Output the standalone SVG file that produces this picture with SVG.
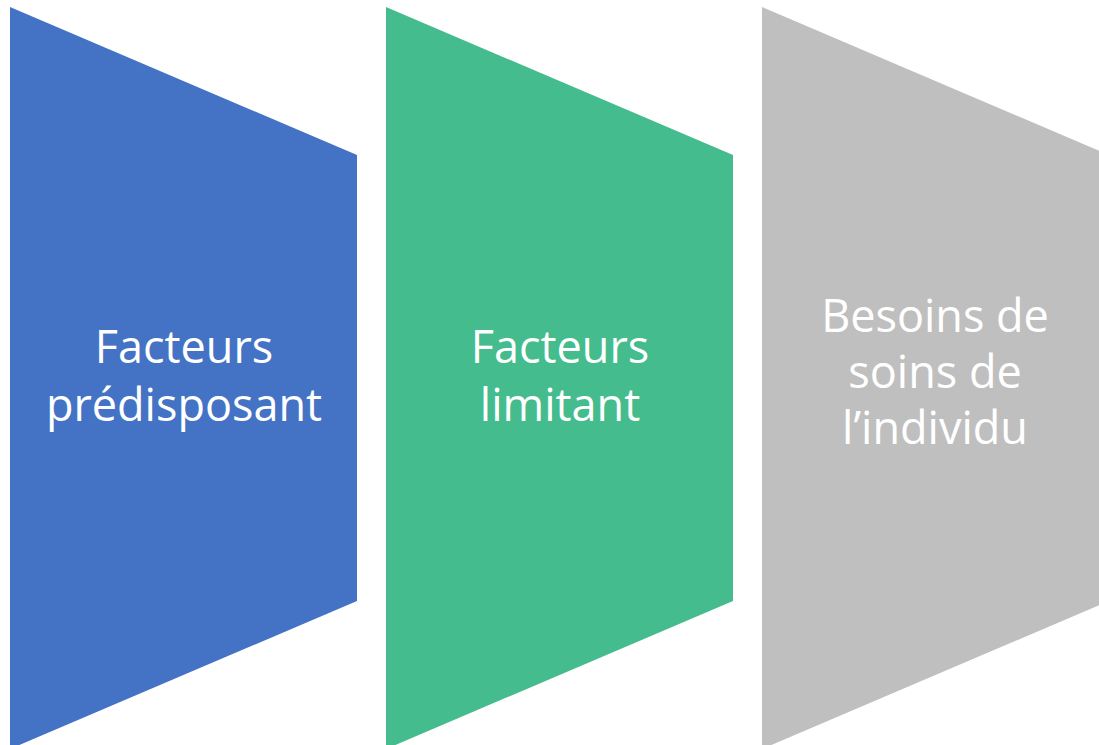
<svg xmlns="http://www.w3.org/2000/svg" width="1099" height="745" viewBox="0 0 1099 745">
<style>
.lbl{font-family:"Open Sans","Liberation Sans",sans-serif;font-size:45px;fill:#FFFFFF;text-anchor:middle}
</style>
<rect width="1099" height="745" fill="#FFFFFF"/>
<g id="node-1">
<polygon points="10,7 357,155 357,601 10,749" fill="#4472C4"/>
<text class="lbl" x="184" y="363">Facteurs</text>
<text class="lbl" x="184" y="421">prédisposant</text>
</g>
<g id="node-2">
<polygon points="386,7 733,155 733,601 386,749" fill="#44BC8D"/>
<text class="lbl" x="560" y="363">Facteurs</text>
<text class="lbl" x="560" y="421">limitant</text>
</g>
<g id="node-3">
<polygon points="762,7 1109,155 1109,601 762,749" fill="#BFBFBF"/>
<text class="lbl" x="935" y="332">Besoins de</text>
<text class="lbl" x="935" y="388">soins de</text>
<text class="lbl" x="935" y="444">l’individu</text>
</g>
<g id="connectors"></g>
</svg>
